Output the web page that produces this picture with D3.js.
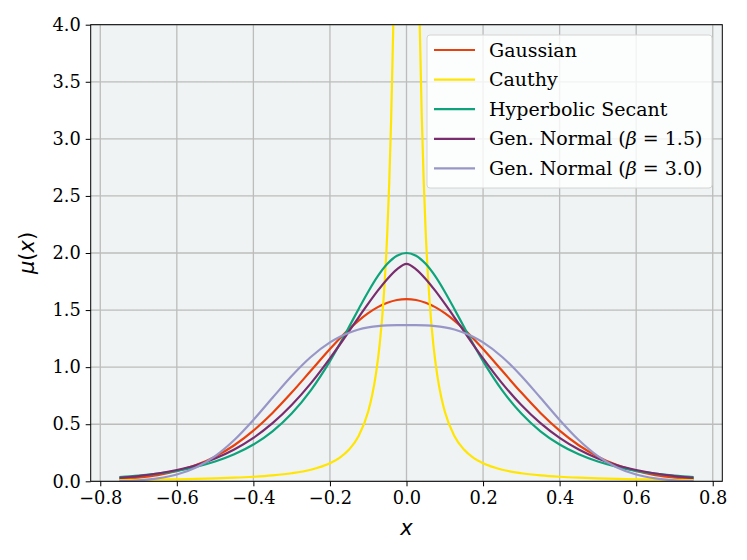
<!DOCTYPE html>
<html>
<head>
<meta charset="utf-8">
<script src="https://cdn.jsdelivr.net/npm/d3@7"></script>
<style>
  body { margin: 0; background: #fff; }
</style>
</head>
<body>
<div id="chart"></div>
<script>
// shared x grid for the smooth curves (denser near the peak)
var xs = [-0.75, -0.70, -0.65, -0.60, -0.55, -0.50, -0.45, -0.40, -0.35, -0.30, -0.25,
  -0.20, -0.175, -0.15, -0.125, -0.10, -0.075, -0.05, -0.025, 0,
  0.025, 0.05, 0.075, 0.10, 0.125, 0.15, 0.175, 0.20,
  0.25, 0.30, 0.35, 0.40, 0.45, 0.50, 0.55, 0.60, 0.65, 0.70, 0.75];

var gaussian = [0.018, 0.032, 0.054, 0.090, 0.142, 0.216, 0.316, 0.444, 0.599, 0.777, 0.968,
  1.159, 1.249, 1.333, 1.408, 1.473, 1.526, 1.564, 1.588, 1.596,
  1.588, 1.564, 1.526, 1.473, 1.408, 1.333, 1.249, 1.159,
  0.968, 0.777, 0.599, 0.444, 0.316, 0.216, 0.142, 0.090, 0.054, 0.032, 0.018];

var hypsec = [0.036, 0.049, 0.067, 0.092, 0.126, 0.173, 0.236, 0.322, 0.438, 0.594, 0.797,
  1.053, 1.199, 1.353, 1.510, 1.661, 1.797, 1.905, 1.976, 2.000,
  1.976, 1.905, 1.797, 1.661, 1.510, 1.353, 1.199, 1.053,
  0.797, 0.594, 0.438, 0.322, 0.236, 0.173, 0.126, 0.092, 0.067, 0.049, 0.036];

var genNorm15 = [0.030, 0.046, 0.068, 0.099, 0.141, 0.200, 0.278, 0.380, 0.509, 0.668, 0.858,
  1.077, 1.194, 1.315, 1.437, 1.556, 1.670, 1.773, 1.857, 1.904,
  1.857, 1.773, 1.670, 1.556, 1.437, 1.315, 1.194, 1.077,
  0.858, 0.668, 0.509, 0.380, 0.278, 0.200, 0.141, 0.099, 0.068, 0.046, 0.030];

var genNorm30 = [0.003, 0.009, 0.025, 0.059, 0.121, 0.221, 0.362, 0.538, 0.732, 0.923, 1.089,
  1.217, 1.265, 1.302, 1.330, 1.348, 1.360, 1.366, 1.368, 1.368,
  1.368, 1.366, 1.360, 1.348, 1.330, 1.302, 1.265, 1.217,
  1.089, 0.923, 0.732, 0.538, 0.362, 0.221, 0.121, 0.059, 0.025, 0.009, 0.003];

// the Cauchy curve is very sharp, so it gets its own grid
var xsCauchy = [-0.75, -0.70, -0.65, -0.60, -0.55, -0.50, -0.45, -0.40, -0.35, -0.30, -0.25,
  -0.20, -0.175, -0.15, -0.125, -0.10, -0.09, -0.08, -0.07, -0.06, -0.05, -0.045, -0.04,
  -0.035, -0.03, -0.025, -0.02, -0.01, 0,
  0.01, 0.02, 0.025, 0.03, 0.035, 0.04, 0.045, 0.05, 0.06, 0.07, 0.08, 0.09, 0.10,
  0.125, 0.15, 0.175, 0.20, 0.25, 0.30, 0.35, 0.40, 0.45, 0.50, 0.55, 0.60, 0.65, 0.70, 0.75];

var cauchy = [0.0113, 0.0130, 0.0151, 0.0177, 0.0210, 0.0254, 0.0314, 0.0397, 0.0518, 0.0704, 0.1012,
  0.1576, 0.2052, 0.2780, 0.3973, 0.6121, 0.7490, 0.9362, 1.2012, 1.5916, 2.1952, 2.6252, 3.1831,
  3.9177, 4.8971, 6.2109, 7.9577, 12.732, 15.915,
  12.732, 7.9577, 6.2109, 4.8971, 3.9177, 3.1831, 2.6252, 2.1952, 1.5916, 1.2012, 0.9362, 0.7490, 0.6121,
  0.3973, 0.2780, 0.2052, 0.1576, 0.1012, 0.0704, 0.0518, 0.0397, 0.0314, 0.0254, 0.0210, 0.0177, 0.0151, 0.0130, 0.0113];

var xTicks = [-0.8, -0.6, -0.4, -0.2, 0.0, 0.2, 0.4, 0.6, 0.8];
var yTicks = [0.0, 0.5, 1.0, 1.5, 2.0, 2.5, 3.0, 3.5, 4.0];

var seriesNames = ['Gaussian', 'Cauthy', 'Hyperbolic Secant', 'Gen. Normal', 'Gen. Normal'];
var betaLabels = [null, null, null, '1.5', '3.0'];
var colors = ['#e8410e', '#ffe500', '#0fa37b', '#7a2d6e', '#9896c7'];

var chart_width = 747;
var chart_height = 560;
// plot box (window.top is read-only, so no bare "top")
var pLeft = 90.7, pRight = 722.3, pTop = 24.7, pBottom = 481.3;

var svg = d3.select('#chart')
  .append('svg')
  .attr('width', chart_width)
  .attr('height', chart_height);

var x_scale = d3.scaleLinear().domain([-0.825, 0.825]).range([pLeft, pRight]);
var y_scale = d3.scaleLinear().domain([0, 4]).range([pBottom, pTop]);

// axes background
svg.append('rect')
  .attr('x', pLeft).attr('y', pTop)
  .attr('width', pRight - pLeft).attr('height', pBottom - pTop)
  .attr('fill', '#eff3f3');

svg.append('clipPath').attr('id', 'clip')
  .append('rect')
  .attr('x', pLeft).attr('y', pTop)
  .attr('width', pRight - pLeft).attr('height', pBottom - pTop);

// grid
svg.append('g').selectAll('line')
  .data(xTicks).enter().append('line')
  .attr('x1', function(d) { return x_scale(d); })
  .attr('x2', function(d) { return x_scale(d); })
  .attr('y1', pTop).attr('y2', pBottom)
  .attr('stroke', '#bcbcbc').attr('stroke-width', 1.3);
svg.append('g').selectAll('line')
  .data(yTicks).enter().append('line')
  .attr('y1', function(d) { return y_scale(d); })
  .attr('y2', function(d) { return y_scale(d); })
  .attr('x1', pLeft).attr('x2', pRight)
  .attr('stroke', '#bcbcbc').attr('stroke-width', 1.3);

// curves
var line = d3.line()
  .x(function(d) { return x_scale(d[0]); })
  .y(function(d) { return y_scale(d[1]); })
  .curve(d3.curveMonotoneX);

var curves = [
  d3.zip(xs, gaussian),
  d3.zip(xsCauchy, cauchy),
  d3.zip(xs, hypsec),
  d3.zip(xs, genNorm15),
  d3.zip(xs, genNorm30)
];

svg.append('g')
  .attr('clip-path', 'url(#clip)')
  .selectAll('path')
  .data(curves).enter().append('path')
  .attr('d', line)
  .attr('fill', 'none')
  .attr('stroke', function(d, i) { return colors[i]; })
  .attr('stroke-width', 2.2);

// axes
var x_axis = d3.axisBottom(x_scale).tickValues(xTicks).tickFormat(d3.format('.1f'))
  .tickSize(5).tickPadding(5);
var y_axis = d3.axisLeft(y_scale).tickValues(yTicks).tickFormat(d3.format('.1f'))
  .tickSize(5).tickPadding(5);

var gx = svg.append('g')
  .attr('transform', 'translate(0,' + pBottom + ')')
  .call(x_axis);
var gy = svg.append('g')
  .attr('transform', 'translate(' + pLeft + ',0)')
  .call(y_axis);

[gx, gy].forEach(function(g) {
  g.select('.domain').remove();
  g.selectAll('line').attr('stroke', '#000').attr('stroke-width', 1);
  g.selectAll('text')
    .attr('fill', '#000')
    .style('font-family', 'DejaVu Serif')
    .style('font-size', '17.8px');
});

// frame
svg.append('rect')
  .attr('x', pLeft).attr('y', pTop)
  .attr('width', pRight - pLeft).attr('height', pBottom - pTop)
  .attr('fill', 'none').attr('stroke', '#000').attr('stroke-width', 1);

// axis labels
svg.append('text')
  .attr('x', (pLeft + pRight) / 2).attr('y', 535)
  .attr('text-anchor', 'middle')
  .style('font-family', 'DejaVu Sans').style('font-size', '21px').style('font-style', 'italic')
  .text('x');

var ylab = svg.append('text')
  .attr('transform', 'translate(34,' + ((pTop + pBottom) / 2) + ') rotate(-90)')
  .attr('text-anchor', 'middle')
  .style('font-family', 'DejaVu Sans').style('font-size', '21px');
ylab.append('tspan').style('font-style', 'italic').text('μ');
ylab.append('tspan').text('(');
ylab.append('tspan').style('font-style', 'italic').text('x');
ylab.append('tspan').text(')');

// legend
var legend = svg.append('g');
legend.append('rect')
  .attr('x', 427).attr('y', 35)
  .attr('width', 285).attr('height', 153)
  .attr('rx', 3)
  .attr('fill', '#ffffff').attr('fill-opacity', 0.8)
  .attr('stroke', '#d4d4d4').attr('stroke-width', 1);

var rows = legend.selectAll('g.row')
  .data(seriesNames).enter().append('g')
  .attr('class', 'row')
  .attr('transform', function(d, i) { return 'translate(0,' + (50 + i * 29.6) + ')'; });

rows.append('line')
  .attr('x1', 434).attr('x2', 475)
  .attr('stroke', function(d, i) { return colors[i]; })
  .attr('stroke-width', 2.2);

var labels = rows.append('text')
  .attr('x', 489).attr('y', 6.5)
  .style('font-family', 'DejaVu Serif').style('font-size', '19px')
  .attr('fill', '#000');

labels.each(function(d, i) {
  var t = d3.select(this);
  t.append('tspan').text(d);
  if (betaLabels[i]) {
    t.append('tspan').text(' (');
    t.append('tspan').style('font-style', 'italic').text('β');
    t.append('tspan').text(' = ' + betaLabels[i] + ')');
  }
});
</script>
</body>
</html>
